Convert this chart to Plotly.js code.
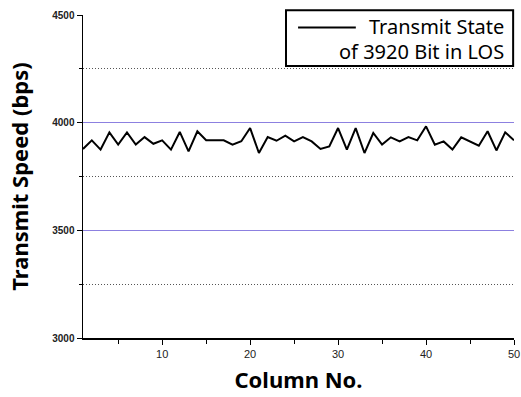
<!DOCTYPE html>
<html>
<head>
<meta charset="utf-8">
<script src="https://cdn.plot.ly/plotly-3.0.1.min.js"></script>
<style>html,body{margin:0;padding:0;background:#fff;}#chart{width:521px;height:397px;}</style>
</head>
<body>
<div id="chart"></div>
<script>
const columnNo = [];
for (let i = 1; i <= 50; i++) columnNo.push(i);
const transmitSpeed = [
  3878, 3918, 3875, 3955, 3898, 3955, 3898, 3933, 3902, 3918,
  3875, 3957, 3867, 3960, 3918, 3918, 3918, 3898, 3914, 3975,
  3859, 3933, 3916, 3940, 3913, 3933, 3913, 3878, 3890, 3975,
  3875, 3975, 3859, 3952, 3898, 3932, 3913, 3933, 3918, 3983,
  3898, 3913, 3875, 3932, 3913, 3893, 3960, 3871, 3955, 3918
];
const seriesName = ["Transmit State", "of 3920 Bit in LOS"];
const yTicks = [3000, 3500, 4000, 4500];
const xTicks = [10, 20, 30, 40, 50];

const trace = {
  x: columnNo, y: transmitSpeed, type: 'scatter', mode: 'lines',
  name: seriesName.join(' '),
  line: {color: '#000', width: 2},
  showlegend: false
};

const layout = {
  width: 521, height: 397,
  margin: {l: 83, r: 7, t: 15, b: 59},
  paper_bgcolor: '#fff', plot_bgcolor: '#fff',
  font: {family: 'Noto Sans, Arial, sans-serif', color: '#000'},
  xaxis: {
    range: [1, 50], tickmode: 'array', tickvals: xTicks, ticktext: xTicks.map(String),
    ticks: 'outside', ticklen: 5, tickwidth: 1, tickcolor: '#000',
    showline: true, linecolor: '#000', linewidth: 1.5, showgrid: false, zeroline: false,
    tickfont: {size: 11, family: 'Arial, sans-serif', color: '#222'},
    minor: {dtick: 5, tick0: 0, ticks: 'outside', ticklen: 4, tickcolor: '#000', showgrid: false},
    title: {text: '<b>Column No.</b>', font: {size: 22, family: 'Noto Sans, sans-serif'}, standoff: 14}
  },
  yaxis: {
    range: [3000, 4500], tickmode: 'array', tickvals: yTicks, ticktext: yTicks.map(String),
    ticks: 'outside', ticklen: 5, tickwidth: 1, tickcolor: '#000',
    showline: true, linecolor: '#000', linewidth: 1.5, zeroline: false,
    showgrid: true, gridcolor: '#8c80e0', gridwidth: 1.3,
    tickfont: {size: 10, family: 'Arial, sans-serif', color: '#222', weight: 'bold'},
    minor: {dtick: 250, tick0: 3000, ticks: 'outside', ticklen: 3, tickcolor: '#000',
            showgrid: true, gridcolor: '#555', griddash: '1px,2px', gridwidth: 1},
    title: {text: '<b>Transmit Speed (bps)</b>', font: {size: 22, family: 'Noto Sans, sans-serif'}, standoff: 17}
  },
  shapes: [
    {type: 'rect', xref: 'paper', yref: 'paper', x0: 0.471, x1: 0.998, y0: 0.842, y1: 1.015,
     line: {color: '#000', width: 2}, fillcolor: '#fff', layer: 'above'},
    {type: 'line', xref: 'paper', yref: 'paper', x0: 0.499, x1: 0.633, y0: 0.961, y1: 0.961,
     line: {color: '#000', width: 2}, layer: 'above'}
  ],
  annotations: [
    {xref: 'paper', yref: 'paper', x: 0.981, y: 0.964, xanchor: 'right', yanchor: 'middle',
     text: seriesName[0], showarrow: false, font: {size: 20, family: 'Noto Sans, sans-serif'}},
    {xref: 'paper', yref: 'paper', x: 0.981, y: 0.886, xanchor: 'right', yanchor: 'middle',
     text: seriesName[1], showarrow: false, font: {size: 20, family: 'Noto Sans, sans-serif'}}
  ]
};

Plotly.newPlot('chart', [trace], layout, {staticPlot: true, displayModeBar: false});
</script>
</body>
</html>
